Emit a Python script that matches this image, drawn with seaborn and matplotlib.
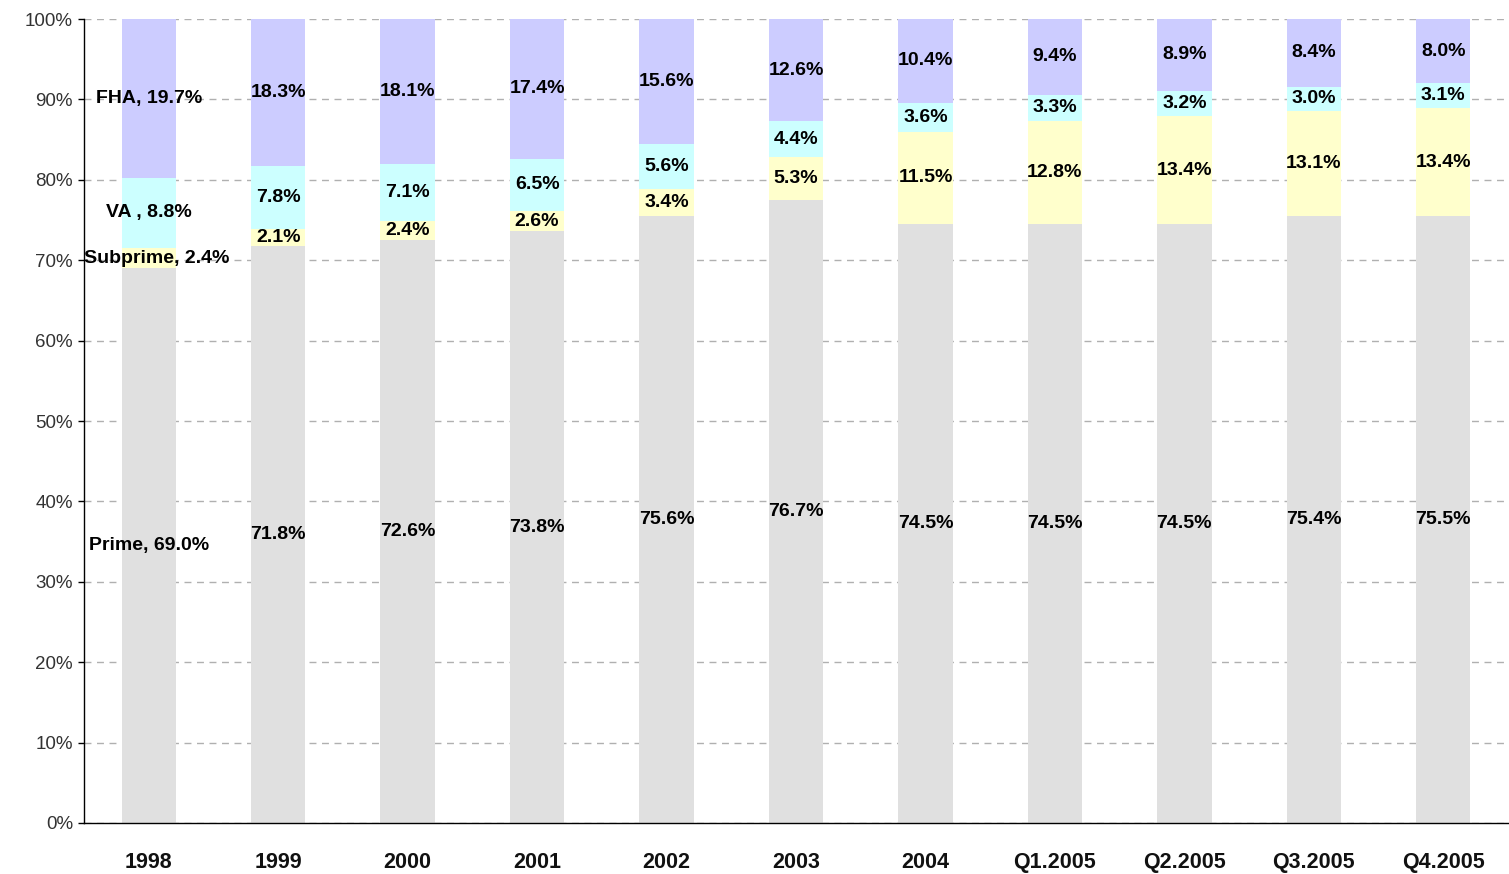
import numpy as np
import pandas as pd
import seaborn as sns
import matplotlib.pyplot as plt

periods = ['1998', '1999', '2000', '2001', '2002', '2003', '2004',
           'Q1.2005', 'Q2.2005', 'Q3.2005', 'Q4.2005']
prime = [69.0, 71.8, 72.6, 73.8, 75.6, 76.7, 74.5, 74.5, 74.5, 75.4, 75.5]
subprime = [2.4, 2.1, 2.4, 2.6, 3.4, 5.3, 11.5, 12.8, 13.4, 13.1, 13.4]
va = [8.8, 7.8, 7.1, 6.5, 5.6, 4.4, 3.6, 3.3, 3.2, 3.0, 3.1]
fha = [19.7, 18.3, 18.1, 17.4, 15.6, 12.6, 10.4, 9.4, 8.9, 8.4, 8.0]

series = ['Prime', 'Subprime', 'VA', 'FHA']
colors = ['#E0E0E0', '#FFFFCC', '#CCFFFF', '#CCCCFF']

df = pd.DataFrame({'period': periods, 'Prime': prime, 'Subprime': subprime,
                   'VA': va, 'FHA': fha})
# 100% stacked: normalise each column to its total
tot = df[series].sum(axis=1)
norm = df[series].div(tot, axis=0) * 100
cum = norm.cumsum(axis=1)

sns.set_style('white')
plt.rcParams['font.family'] = ['Liberation Sans', 'DejaVu Sans']

fig = plt.figure(figsize=(15.09, 8.74), dpi=100)
ax = fig.add_axes([0.0557, 0.0584, 0.9436, 0.9198])

# draw back to front so each cumulative bar hides the one behind
for s, c in reversed(list(zip(series, colors))):
    sns.barplot(x=df['period'], y=cum[s], color=c, width=0.42,
                saturation=1, ax=ax, zorder=2, edgecolor='none')

for i in range(len(periods)):
    lows = cum.iloc[i] - norm.iloc[i]
    for s in series:
        y = lows[s] + norm.iloc[i][s] / 2
        v = df[s][i]
        if i == 0:
            txt = f'{s} , {v:.1f}%' if s == 'VA' else f'{s}, {v:.1f}%'
            xx = 0.06 if s == 'Subprime' else 0
        else:
            txt = f'{v:.1f}%'
            xx = i
        ax.text(xx, y, txt, ha='center', va='center', fontsize=14,
                fontweight='bold', color='black', zorder=5)

ax.set_ylim(0, 100)
ax.set_xlim(-0.5, len(periods) - 0.5)
ax.set_yticks(np.arange(0, 101, 10))
ax.set_yticklabels([f'{t}%' for t in range(0, 101, 10)], fontsize=13.5, color='#333333')
ax.yaxis.grid(True, linestyle=(0, (5, 4)), color='#B0B0B0', linewidth=1)
ax.set_axisbelow(True)
ax.set_xlabel('')
ax.set_ylabel('')

ax.set_xticks(range(len(periods)))
ax.set_xticklabels(periods, fontsize=15.5, fontweight='bold', color='#111111')
ax.set_xticks(np.arange(-0.5, len(periods)), minor=True)
ax.tick_params(axis='x', which='major', length=0, pad=21)
ax.tick_params(axis='x', which='minor', length=6, width=1, direction='out', color='black')
ax.tick_params(axis='y', length=4, width=1, direction='out', color='black', left=True, pad=4)

sns.despine(ax=ax, top=True, right=True)
for sp in ['left', 'bottom']:
    ax.spines[sp].set_color('black')
    ax.spines[sp].set_linewidth(1)

fig.savefig('out.png', dpi=100)
